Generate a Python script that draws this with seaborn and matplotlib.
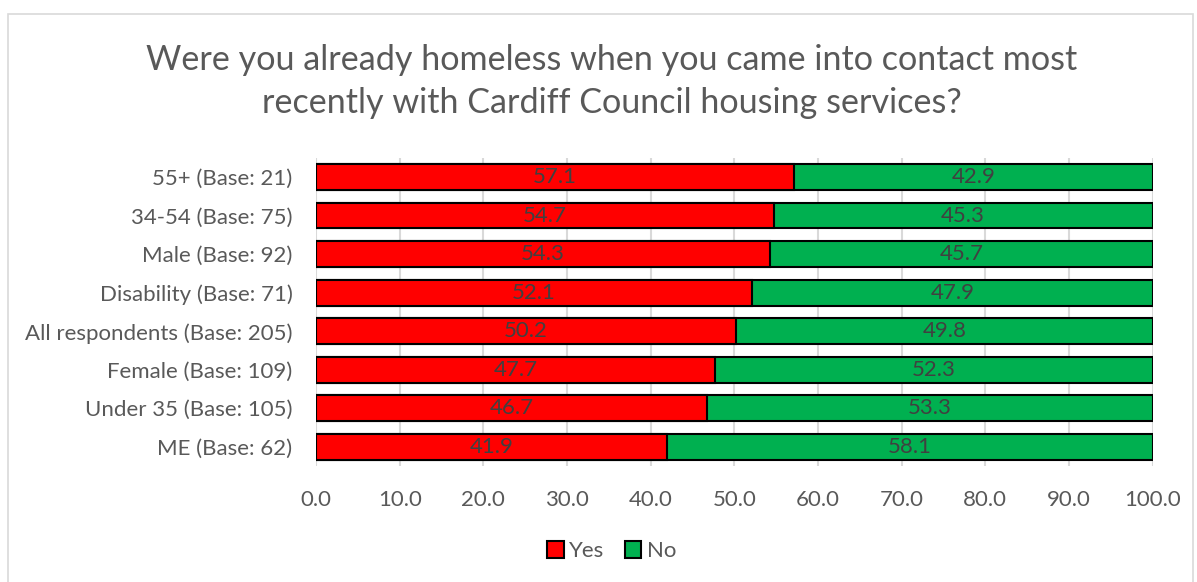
import pandas as pd
import seaborn as sns
import matplotlib.pyplot as plt
from matplotlib.patches import Rectangle

groups = ['55+ (Base: 21)', '34-54 (Base: 75)', 'Male (Base: 92)', 'Disability (Base: 71)',
          'All respondents (Base: 205)', 'Female (Base: 109)', 'Under 35 (Base: 105)', 'ME (Base: 62)']
yes = [57.1, 54.7, 54.3, 52.1, 50.2, 47.7, 46.7, 41.9]
no = [42.9, 45.3, 45.7, 47.9, 49.8, 52.3, 53.3, 58.1]

df = pd.DataFrame({'group': groups, 'Yes': yes, 'No': no})
df['total'] = df['Yes'] + df['No']

sns.set_style('white')
plt.rcParams['font.family'] = ['Lato', 'DejaVu Sans']

fig = plt.figure(figsize=(11.97, 5.82), dpi=100)
ax = fig.add_axes([0.264, 0.199, 0.699, 0.53])

# stacked: draw full length in green, then yes part in red on top
sns.barplot(data=df, y='group', x='total', color='#00b050', orient='h', width=0.67,
            edgecolor='black', linewidth=1.5, saturation=1, ax=ax)
sns.barplot(data=df, y='group', x='Yes', color='#ff0000', orient='h', width=0.67,
            edgecolor='black', linewidth=1.5, saturation=1, ax=ax)

for i in range(len(groups)):
    ax.text(yes[i] / 2, i, f'{yes[i]:.1f}', ha='center', va='center', fontsize=16, color='#404040')
    ax.text(yes[i] + no[i] / 2, i, f'{no[i]:.1f}', ha='center', va='center', fontsize=16, color='#404040')

ax.set_xlim(0, 100)
ax.set_ylim(len(groups) - 0.5, -0.5)
ax.set_xticks(range(0, 101, 10))
ax.set_xticklabels([f'{v:.1f}' for v in range(0, 101, 10)])
ax.xaxis.grid(True, color='#d9d9d9', linewidth=1.5)
ax.set_axisbelow(True)
ax.tick_params(axis='both', labelsize=16, colors='#595959', length=0)
ax.tick_params(axis='x', pad=17)
ax.tick_params(axis='y', pad=17)
ax.set_xlabel('')
ax.set_ylabel('')
for s in ax.spines.values():
    s.set_visible(False)

fig.text(0.511, 0.86, 'Were you already homeless when you came into contact most\nrecently with Cardiff Council housing services?',
         ha='center', va='center', fontsize=24.6, color='#595959', linespacing=1.45)

handles = [Rectangle((0, 0), 1, 1, facecolor='#ff0000', edgecolor='black', linewidth=1.5),
           Rectangle((0, 0), 1, 1, facecolor='#00b050', edgecolor='black', linewidth=1.5)]
fig.legend(handles, ['Yes', 'No'], loc='center', bbox_to_anchor=(0.511, 0.053), ncol=2, frameon=False,
           fontsize=16, labelcolor='#595959', handlelength=0.75, handleheight=0.75,
           handletextpad=0.25, columnspacing=0.9)

# outer chart border
fig.patches.append(Rectangle((0.007, -0.01), 0.99, 0.986, transform=fig.transFigure,
                             fill=False, edgecolor='#d9d9d9', linewidth=1.2))

fig.savefig('out.png', dpi=100)
